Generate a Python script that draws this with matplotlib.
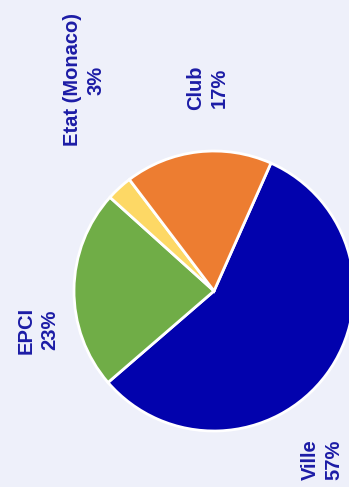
import matplotlib
matplotlib.use("Agg")
import matplotlib.pyplot as plt

# data
labels = ["Ville", "EPCI", "Etat (Monaco)", "Club"]
shares = [57, 23, 3, 17]
colors = ["#0202ad", "#70ad47", "#fdd865", "#ed7d31"]

# label anchor points (pixels, y up) - chart is shown rotated 90 degrees
label_pos = {
    "Ville": (322, 27),
    "EPCI": (38, 157),
    "Etat (Monaco)": (84, 407),
    "Club": (207, 399),
}

W, H = 349, 487
bg = "#eef0fa"

fig = plt.figure(figsize=(W / 100, H / 100), dpi=100)
fig.patch.set_facecolor(bg)
ax = fig.add_axes([0, 0, 1, 1])
ax.set_facecolor(bg)

ax.pie(shares, colors=colors, startangle=66, counterclock=False,
       center=(214, 196), radius=140,
       wedgeprops=dict(edgecolor="white", linewidth=2))
ax.set_xlim(0, W)
ax.set_ylim(0, H)
ax.set_aspect("equal")
ax.axis("off")

for lab, val in zip(labels, shares):
    x, y = label_pos[lab]
    ax.text(x, y, f"{lab}\n{val}%", rotation=90, ha="center", va="center",
            multialignment="center", color="#1c1ca6", fontsize=14.5,
            fontweight="bold", family="Liberation Sans", linespacing=1.3)

fig.savefig("out.png", dpi=100, facecolor=bg)
